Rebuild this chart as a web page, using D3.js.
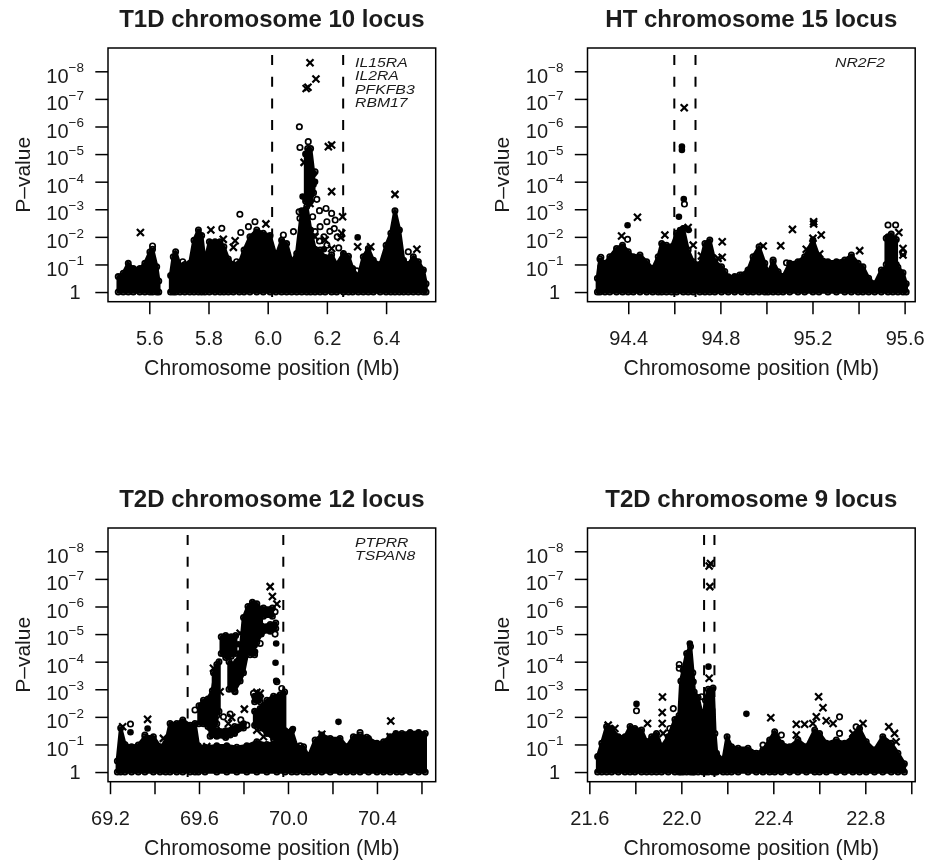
<!DOCTYPE html>
<html>
<head>
<meta charset="utf-8">
<script src="https://cdn.jsdelivr.net/npm/d3@7"></script>
<style>
  html, body { margin: 0; background: #fff; }
  svg { display: block; }
  text { font-family: "Liberation Sans", Arial, sans-serif; fill: #1c1c1c; }
</style>
</head>
<body>
<svg width="931" height="861"></svg>
<script>
// every mark is [position in Mb, -log10 P]; ridges are [position, low, high]
const t1dCloud = [
  [[5.495,.56],[5.512,.68],[5.529,1.04],[5.546,.85],[5.568,.85],[5.585,1.04],[5.602,1.45],[5.611,1.55],[5.625,.92],[5.632,.4]],
  [[5.672,.6],[5.681,1.28],[5.689,1.46],[5.704,.95],[5.72,1.0],[5.737,1.04],[5.751,1.88],[5.766,2.25],[5.777,2.05],[5.788,1.1],
   [5.803,1.82],[5.822,1.82],[5.839,1.82],[5.852,1.64],[5.867,1.2],[5.884,1.0],[5.904,1.04],[5.92,1.52],[5.94,2.0],[5.963,2.25],
   [5.985,2.13],[6.008,2.05],[6.028,1.3],[6.047,1.88],[6.064,1.76],[6.081,1.1],[6.098,1.4],[6.115,2.95],[6.132,3.1],[6.145,2.25],
   [6.16,1.55],[6.177,1.52],[6.194,1.25],[6.216,1.35],[6.233,1.0],[6.256,1.4],[6.273,1.3],[6.287,.85],[6.306,.55],[6.323,1.28],
   [6.34,1.58],[6.357,1.15],[6.38,1.0],[6.4,1.7],[6.416,2.13],[6.43,2.95],[6.445,2.25],[6.459,1.15],[6.475,1.0],[6.492,1.28],
   [6.509,1.1],[6.526,.8],[6.535,.3]]
];
const t1dRidges = [
  [[6.128,3.3,5.0],[6.135,3.3,5.2],[6.145,3.3,5.2],[6.155,3.6,4.3]]
];
const t1dCrosses = [[6.143,8.31],[6.163,7.72],[6.13,7.38],[6.136,7.42],[6.123,4.7],[6.205,5.27],[6.216,5.33],[6.216,3.64],[6.43,3.54],
  [6.253,2.73],[6.25,2.13],[6.247,1.98],[5.57,2.16],[5.808,2.25],[5.85,1.91],[5.89,1.86],[5.884,1.62],[5.994,2.47],[6.348,1.64],
  [6.504,1.55],[6.16,2.0],[6.194,1.89],[6.216,1.58],[6.304,1.64],[6.143,3.21]];
const t1dCircles = [[6.107,5.99],[6.137,5.45],[6.109,5.24],[5.906,2.82],[5.845,2.31],[5.957,2.55],[5.935,2.37],[5.909,2.16],[5.895,1.1],
  [5.713,1.1],[5.611,1.67],[6.301,.77],[6.475,1.46],[6.166,3.36],[6.175,2.95],[6.197,3.03],[6.216,2.85],[6.228,2.61],[6.2,2.55],
  [6.177,2.37],[6.16,2.19],[6.152,2.73],[6.106,2.91],[6.109,2.67],[6.087,2.19],[6.053,2.07],[6.137,3.94],[6.149,3.76],[6.154,4.3],[6.16,4.36],
  [6.21,2.2],[6.19,2.0],[6.225,2.3],[6.235,2.0],[6.175,1.85],[6.2,1.7],[6.24,1.6]];
const t1dDots = [[6.304,1.98],[6.118,3.46],[6.16,4.0],[6.155,3.9],[6.14,3.2],[6.19,1.55],[6.175,1.4]];

const htCloud = [
  [[94.266,.5],[94.277,1.2],[94.299,1.04],[94.32,1.28],[94.349,1.58],[94.375,1.7],[94.4,1.46],[94.422,1.28],[94.451,1.34],[94.48,1.1],
   [94.506,.85],[94.53,1.28],[94.545,1.76],[94.566,1.7],[94.588,1.64],[94.61,2.13],[94.639,2.3],[94.66,1.52],[94.682,1.1],[94.711,1.0],
   [94.733,1.76],[94.754,1.89],[94.776,1.1],[94.805,.92],[94.834,.55],[94.862,.56],[94.892,.62],[94.92,.8],[94.942,1.28],[94.968,1.64],
   [94.993,1.04],[95.007,.7],[95.029,1.1],[95.051,.74],[95.072,.56],[95.101,1.04],[95.137,1.1],[95.166,1.28],[95.202,1.89],[95.228,1.28],
   [95.267,1.1],[95.304,1.1],[95.34,1.16],[95.369,1.34],[95.398,1.04],[95.419,.92],[95.444,.5],[95.47,.3],[95.499,.8],[95.528,.92],
   [95.549,1.0],[95.571,.9],[95.593,.7],[95.607,.3]]
];
const htRidges = [
  [[95.52,1.0,1.95],[95.542,1.0,2.1],[95.564,1.0,1.9]]
];
const htCrosses = [[94.643,6.68],[94.44,2.71],[94.371,2.03],[94.559,2.07],[94.66,2.34],[94.682,1.7],[94.718,1.31],[94.808,1.82],[94.808,1.26],
  [94.986,1.67],[95.062,1.68],[95.113,2.27],[95.173,1.55],[95.205,2.55],[95.205,2.47],[95.238,2.07],[95.202,1.95],[95.231,1.38],[95.405,1.5],
  [95.575,2.16],[95.593,1.58],[95.593,1.34],[94.79,1.22]];
const htCircles = [[94.644,3.19],[94.281,1.26],[94.281,.92],[94.397,1.91],[95.087,1.06],[95.029,1.16],[95.528,2.43],[95.561,2.43],[95.528,2.0],
  [95.532,1.7],[95.593,1.4],[94.819,.74],[94.884,.62]];
const htDots = [[94.397,2.42],[94.62,2.73],[94.633,5.27],[94.633,5.15],[94.641,3.37],[94.625,2.25],[94.64,2.3],[94.662,2.25],[95.205,2.5]];

const t2d12Cloud = [
  [[69.233,.4],[69.248,1.6],[69.267,1.0],[69.297,.92],[69.327,.98],[69.357,1.28],[69.395,1.28],[69.425,.92],[69.45,1.04],[69.47,1.76],
   [69.5,1.76],[69.527,1.89],[69.56,1.7],[69.582,1.76],[69.597,.95],[69.627,.9],[69.68,.95],[69.725,.95],[69.77,.9],[69.815,.95],
   [69.86,1.1],[69.905,1.0],[69.95,1.1],[69.987,1.5],[70.017,1.5],[70.04,.92],[70.07,.92],[70.092,.56],[70.122,1.16],[70.152,1.34],
   [70.19,1.22],[70.234,1.22],[70.264,.92],[70.294,1.28],[70.324,1.34],[70.362,1.22],[70.4,1.04],[70.43,1.1],[70.459,1.28],[70.489,1.34],
   [70.512,1.4],[70.549,1.43],[70.587,1.43],[70.617,1.4]]
];
const t2d12Ridges = [
  [[69.6,1.75,2.4],[69.62,1.75,2.6],[69.64,1.65,2.65],[69.66,1.65,2.95],[69.68,1.75,3.9]],
  [[69.665,1.9,3.6],[69.69,2.2,4.0]],
  [[69.7,4.3,4.9],[69.72,4.15,4.95],[69.745,4.2,4.9],[69.765,4.3,4.95]],
  [[69.735,3.0,4.0],[69.76,2.95,3.9],[69.785,3.3,4.3],[69.8,3.6,5.6],[69.82,4.4,6.0],[69.84,4.6,6.15],[69.86,4.7,6.1],[69.88,5.0,5.9]],
  [[69.83,4.25,4.6],[69.85,4.25,4.6]],
  [[69.89,5.65,5.95],[69.93,5.65,5.95]],
  [[69.88,5.05,5.3],[69.92,5.1,5.35],[69.945,5.2,5.4]],
  [[69.85,2.55,2.75],[69.875,2.55,2.75]],
  [[69.85,1.7,2.2],[69.875,1.6,2.3],[69.905,1.4,2.6],[69.935,1.2,2.75],[69.965,1.1,2.8],[69.985,1.3,2.9]],
  [[69.65,1.3,1.6],[69.68,1.3,1.55],[69.72,1.25,1.5],[69.76,1.4,1.65],[69.8,1.6,1.75]]
];
const t2d12Crosses = [[69.92,6.72],[69.93,6.36],[69.95,6.09],[69.369,1.91],[69.257,1.64],[69.665,3.76],[69.804,2.28],[69.747,1.98],[69.732,1.76],
  [69.695,2.91],[69.86,2.89],[69.875,2.85],[69.86,1.52],[69.89,1.28],[70.462,1.85],[70.152,1.37],[70.459,1.28],[69.635,.92],[69.44,1.22],[69.785,5.03]];
const t2d12Circles = [[69.292,1.74],[69.582,2.25],[69.762,2.91],[69.788,1.89],[69.815,1.7],[69.74,1.34],[69.972,3.03],[69.95,3.27],[69.942,5.81],
  [69.905,5.75],[69.942,5.0],[69.875,4.66],[70.324,1.43],[70.354,1.26],[70.055,.95],[69.357,1.34],[69.77,4],[69.77,3.46],[69.845,2.85],[69.86,2.75],
  [69.74,2.1],[69.71,2.0],[69.68,2.05],[69.78,1.6]];
const t2d12Dots = [[70.227,1.82],[70.485,1.4],[69.369,1.58],[69.292,1.44],[69.947,4.66],[69.944,3.96],[69.947,3.31],[69.777,4.63],[70.022,1.56],[69.852,4.36]];

const t2d9Cloud = [
  [[21.636,.56],[21.654,1.04],[21.675,1.65],[21.697,1.58],[21.726,1.28],[21.755,1.28],[21.777,1.65],[21.798,1.58],[21.827,1.52],[21.849,1.1],
   [21.871,1.28],[21.892,1.4],[21.914,.92],[21.943,1.28],[21.972,1.9],[21.99,2.05],[21.998,3.3],[22.008,3.7],[22.023,4.3],[22.04,4.55],[22.05,3.6],
   [22.056,2.9],[22.073,2.7],[22.095,1.9],[22.105,2.6],[22.117,3.0],[22.138,3.05],[22.146,1.4],[22.153,.68],[22.182,.44],[22.199,1.28],[22.218,.92],[22.247,.86],[22.29,.86],
   [22.326,.68],[22.355,.8],[22.384,1.16],[22.406,1.46],[22.435,1.04],[22.471,.92],[22.507,1.16],[22.544,.92],[22.58,1.52],[22.601,1.4],
   [22.631,1.04],[22.674,1.16],[22.71,1.04],[22.746,1.28],[22.775,1.58],[22.804,1.1],[22.84,.8],[22.876,1.28],[22.913,1.04],[22.942,.68],[22.97,.3]]
];
const t2d9Ridges = [];
const t2d9Crosses = [[22.121,7.47],[22.127,7.56],[22.124,6.72],[22.121,3.4],[21.918,2.72],[21.917,2.16],[21.917,1.76],[21.853,1.76],[21.921,1.4],
  [22.597,2.73],[22.616,2.33],[22.587,2.0],[22.389,1.97],[22.5,1.73],[22.536,1.73],[22.572,1.76],[22.63,1.86],[22.66,1.76],[22.5,1.34],[22.79,1.76],
  [22.746,1.4],[22.902,1.64],[22.927,1.4],[22.934,1.1],[21.682,1.7],[21.711,1.58],[21.892,1.28]];
const t2d9Circles = [[21.805,2.22],[21.991,3.9],[21.991,3.76],[21.965,2.3],[21.95,1.58],[22.688,2.0],[22.688,1.4],[22.052,3.27],[22.088,2.73],
  [22.066,2.37],[22.088,2.09],[22.435,1.34],[22.355,.98],[22.76,1.64]];
const t2d9Dots = [[21.805,2.47],[22.118,3.82],[22.283,2.11],[22.037,4.66]];

const yTicks = [0, 1, 2, 3, 4, 5, 6, 7, 8];

const panels = [
  { title: "T1D chromosome 10 locus", left: 108, top: 48, domain: [5.4605, 6.5676],
    ticks: [5.6, 5.8, 6.0, 6.2, 6.4], labelled: [5.6, 5.8, 6.0, 6.2, 6.4], bounds: [6.015, 6.255],
    genes: ["IL15RA", "IL2RA", "PFKFB3", "RBM17"], geneX: 247,
    cloud: t1dCloud, ridges: t1dRidges, crosses: t1dCrosses, circles: t1dCircles, dots: t1dDots },
  { title: "HT chromosome 15 locus", left: 587.5, top: 48, domain: [94.223, 95.646],
    ticks: [94.4, 94.6, 94.8, 95.0, 95.2, 95.4, 95.6], labelled: [94.4, 94.8, 95.2, 95.6], bounds: [94.6, 94.692],
    genes: ["NR2F2"], geneX: 247.5,
    cloud: htCloud, ridges: htRidges, crosses: htCrosses, circles: htCircles, dots: htDots },
  { title: "T2D chromosome 12 locus", left: 108, top: 528, domain: [69.191, 70.664],
    ticks: [69.2, 69.4, 69.6, 69.8, 70.0, 70.2, 70.4, 70.6], labelled: [69.2, 69.6, 70.0, 70.4], bounds: [69.549, 69.979],
    genes: ["PTPRR", "TSPAN8"], geneX: 247,
    cloud: t2d12Cloud, ridges: t2d12Ridges, crosses: t2d12Crosses, circles: t2d12Circles, dots: t2d12Dots },
  { title: "T2D chromosome 9 locus", left: 587.5, top: 528, domain: [21.592, 23.017],
    ticks: [21.6, 21.8, 22.0, 22.2, 22.4, 22.6, 22.8, 23.0], labelled: [21.6, 22.0, 22.4, 22.8], bounds: [22.099, 22.144],
    genes: [], geneX: 247,
    cloud: t2d9Cloud, ridges: t2d9Ridges, crosses: t2d9Crosses, circles: t2d9Circles, dots: t2d9Dots }
];

const boxW = 327.7, boxH = 253.7;
const svg = d3.select("svg");

const soft = svg.append("defs").append("filter").attr("id", "soft")
  .attr("x", 0).attr("y", 0).attr("width", 1).attr("height", 1);
soft.append("feGaussianBlur").attr("stdDeviation", 0.7);

const root = svg.append("g").attr("filter", "url(#soft)");
root.append("rect").attr("width", 931).attr("height", 861).attr("fill", "#fff");

panels.forEach(drawPanel);

function drawPanel(p) {
  const g = root.append("g").attr("transform", `translate(${p.left},${p.top})`);
  const x = d3.scaleLinear().domain(p.domain).range([0, boxW]);
  const y = d3.scaleLinear().domain([8.845, -0.35]).range([0, boxH]);

  // dense clouds of overlapping points: a filled body, then a row of open points on its edge
  const base = d3.area().x(d => x(d[0])).y0(y(0)).y1(d => y(d[1]));
  const band = d3.area().x(d => x(d[0])).y0(d => y(d[1])).y1(d => y(d[2]));

  g.selectAll("path.cloud").data(p.cloud).enter().append("path")
    .attr("class", "cloud").attr("d", base);
  g.selectAll("path.ridge").data(p.ridges).enter().append("path")
    .attr("class", "ridge").attr("d", band);
  g.selectAll("path.cloud,path.ridge")
    .attr("fill", "#000").attr("stroke", "#000").attr("stroke-width", 3.5).attr("stroke-linejoin", "round");

  const edge = p.cloud.flat().flatMap(d => [[d[0], d[1]], [d[0], 0]])
    .concat(p.ridges.flat().flatMap(d => [[d[0], d[1]], [d[0], d[2]]]));
  g.selectAll("circle.edge").data(edge).enter().append("circle")
    .attr("class", "edge").attr("cx", d => x(d[0])).attr("cy", d => y(d[1]))
    .attr("r", 2.6).attr("fill", "none").attr("stroke", "#000").attr("stroke-width", 1.8);

  g.selectAll("circle.open").data(p.circles).enter().append("circle")
    .attr("class", "open").attr("cx", d => x(d[0])).attr("cy", d => y(d[1]))
    .attr("r", 2.7).attr("fill", "none").attr("stroke", "#000").attr("stroke-width", 1.7);
  g.selectAll("circle.dot").data(p.dots).enter().append("circle")
    .attr("class", "dot").attr("cx", d => x(d[0])).attr("cy", d => y(d[1]))
    .attr("r", 3.3).attr("fill", "#000");

  const cross = d3.symbol().type(d3.symbolX).size(34);
  g.selectAll("path.cross").data(p.crosses).enter().append("path")
    .attr("class", "cross").attr("d", cross)
    .attr("transform", d => `translate(${x(d[0])},${y(d[1])})`)
    .attr("fill", "none").attr("stroke", "#000").attr("stroke-width", 2.2);

  g.selectAll("line.bound").data(p.bounds).enter().append("line")
    .attr("class", "bound")
    .attr("x1", d => x(d)).attr("x2", d => x(d))
    .attr("y1", 7).attr("y2", 249)
    .attr("stroke", "#000").attr("stroke-width", 2).attr("stroke-dasharray", "10 11.7");

  g.append("rect").attr("width", boxW).attr("height", boxH)
    .attr("fill", "none").attr("stroke", "#000").attr("stroke-width", 1.5);

  const xAxis = d3.axisBottom(x).tickValues(p.ticks).tickSize(12.5).tickPadding(18)
    .tickFormat(d => p.labelled.includes(d) ? d.toFixed(1) : "");
  const ax = g.append("g").attr("transform", `translate(0,${boxH})`).call(xAxis);
  ax.select(".domain").remove();
  ax.selectAll(".tick line").attr("stroke", "#000").attr("stroke-width", 1.5);
  ax.selectAll(".tick text").attr("font-size", 20).attr("dy", 0).attr("y", 43.5);

  const yAxis = d3.axisLeft(y).tickValues(yTicks).tickSize(12.7).tickFormat("");
  const ay = g.append("g").call(yAxis);
  ay.select(".domain").remove();
  ay.selectAll(".tick line").attr("stroke", "#000").attr("stroke-width", 1.5);
  ay.selectAll(".tick text").each(function(d) {
    const t = d3.select(this).attr("font-size", 20).attr("dy", 0).attr("text-anchor", "end");
    if (d === 0) {
      t.attr("x", -27.5).attr("y", 6.4).text("1");
      return;
    }
    t.attr("x", -24).attr("y", 10.7);
    t.append("tspan").text("10");
    t.append("tspan").attr("font-size", 13.5).attr("dy", -10.3).text("\u2212" + d);
  });

  g.append("text").attr("x", boxW / 2).attr("y", -21).attr("text-anchor", "middle")
    .attr("font-size", 24).attr("font-weight", "bold").attr("fill", "#000").text(p.title);
  g.append("text").attr("x", boxW / 2).attr("y", 327).attr("text-anchor", "middle")
    .attr("font-size", 21.2).text("Chromosome position (Mb)");
  g.append("text").attr("transform", `translate(-78.5,${boxH / 2}) rotate(-90)`)
    .attr("text-anchor", "middle").attr("font-size", 21).text("P\u2013value");

  // glyphs in the reference are wide and tightly leaded
  g.selectAll("text.gene").data(p.genes).enter().append("text")
    .attr("class", "gene")
    .attr("transform", (d, i) => `translate(${p.geneX},${18.7 + i * 13.5}) scale(1.17,1)`)
    .attr("font-size", 13.5).attr("font-style", "italic").attr("fill", "#444").text(d => d);
}
</script>
</body>
</html>
